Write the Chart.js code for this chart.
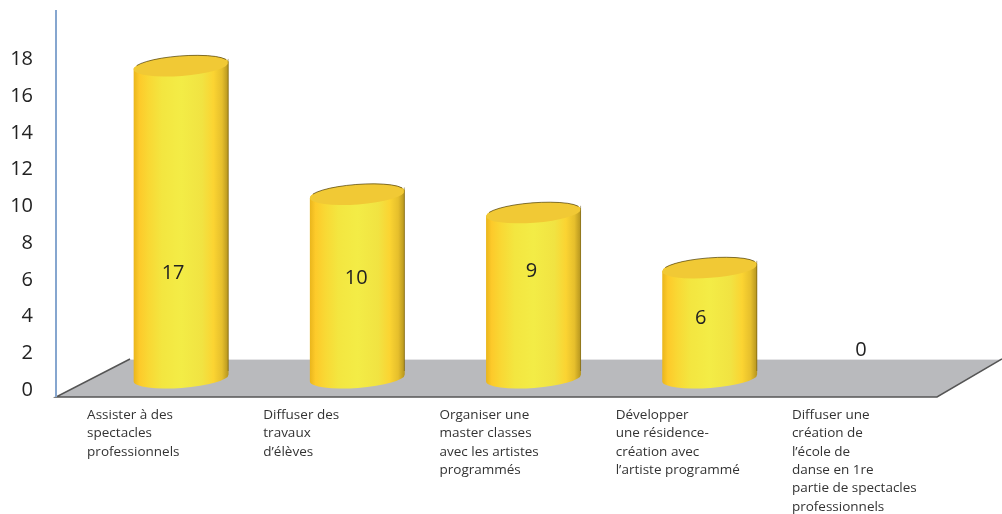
<!DOCTYPE html>
<html>
<head>
<meta charset="utf-8">
<script src="https://cdn.jsdelivr.net/npm/chart.js@4.4.1/dist/chart.umd.min.js"></script>
<style>
  html, body { margin: 0; padding: 0; background: #fff; }
  #wrap { width: 1002px; height: 514px; }
</style>
</head>
<body>
<div id="wrap"><canvas id="myChart" width="1002" height="514"></canvas></div>
<script>
// categories (one array of lines per category)
const categories = [
  ['Assister à des', 'spectacles', 'professionnels'],
  ['Diffuser des', 'travaux', 'd\u2019élèves'],
  ['Organiser une', 'master classes', 'avec les artistes', 'programmés'],
  ['Développer', 'une résidence-', 'création avec', 'l\u2019artiste programmé'],
  ['Diffuser une', 'création de', 'l\u2019école de', 'danse en 1re', 'partie de spectacles', 'professionnels']
];
const values = [17, 10, 9, 6, 0];
const yTicks = [0, 2, 4, 6, 8, 10, 12, 14, 16, 18];

const FONT = '"Open Sans", "Noto Sans", sans-serif';

// floor depth in pixels (front edge -> back wall)
const DEPTH_X = 74;
const DEPTH_Y = 38;

// little hand nudges for the value labels (dx, dy from bar centre)
const labelNudge = [[-8, 51], [-1, -8], [-2, -24], [-9, -5], [-25, -28]];

const cylinders = {
  id: 'cylinders',
  beforeDatasetsDraw(chart) {
    const ctx = chart.ctx;
    const area = chart.chartArea;
    const y = chart.scales.y;
    const zero = y.getPixelForValue(0);
    const front = zero + 7;
    const back = front - DEPTH_Y;

    ctx.save();
    // floor
    ctx.beginPath();
    ctx.moveTo(area.left, front);
    ctx.lineTo(area.left + DEPTH_X, back);
    ctx.lineTo(area.right + DEPTH_X - 9, back);
    ctx.lineTo(area.right, front);
    ctx.closePath();
    ctx.fillStyle = '#b9babd';
    ctx.fill();

    ctx.strokeStyle = '#e4e4e6';
    ctx.lineWidth = 1;
    ctx.beginPath();
    ctx.moveTo(area.left + DEPTH_X, back + 0.5);
    ctx.lineTo(area.right + DEPTH_X - 9, back + 0.5);
    ctx.stroke();

    ctx.strokeStyle = '#555';
    ctx.lineWidth = 1.5;
    ctx.beginPath();
    ctx.moveTo(area.left + DEPTH_X, back);
    ctx.lineTo(area.left, front);
    ctx.lineTo(area.right, front);
    ctx.lineTo(area.right + DEPTH_X - 9, back);
    ctx.stroke();

    // vertical axis line
    ctx.strokeStyle = '#86a6cf';
    ctx.lineWidth = 2;
    ctx.beginPath();
    ctx.moveTo(area.left, area.top);
    ctx.lineTo(area.left, front);
    ctx.stroke();

    // cylinders, set half way into the floor
    const meta = chart.getDatasetMeta(0);
    const rx0 = DEPTH_X / 2, ry0 = DEPTH_Y / 2 - 7;
    const rot = -0.075;
    meta.data.forEach((bar, i) => {
      if (values[i] <= 0) return;
      const cx = bar.x + rx0;
      const w = bar.width;
      const rx = w / 2;
      const ry = 10;
      const top = bar.y - ry0;
      const base = bar.base - ry0;
      const left = cx - rx, right = cx + rx;

      const g = ctx.createLinearGradient(left, 0, right, 0);
      g.addColorStop(0, '#e9b51c');
      g.addColorStop(0.06, '#fdca2a');
      g.addColorStop(0.16, '#f9d834');
      g.addColorStop(0.3, '#f3e640');
      g.addColorStop(0.5, '#f3ec46');
      g.addColorStop(0.72, '#f1e342');
      g.addColorStop(0.84, '#fbd432');
      g.addColorStop(0.93, '#e6bf2c');
      g.addColorStop(1, '#b3931e');

      ctx.beginPath();
      ctx.ellipse(cx, top, rx, ry, rot, Math.PI, 0, false);
      ctx.ellipse(cx, base, rx, ry, rot, 0, Math.PI, false);
      ctx.closePath();
      ctx.fillStyle = g;
      ctx.fill();

      // top cap
      ctx.beginPath();
      ctx.ellipse(cx, top, rx, ry, rot, 0, Math.PI * 2);
      ctx.fillStyle = '#f1c935';
      ctx.fill();
      ctx.strokeStyle = 'rgba(70,55,15,0.75)';
      ctx.lineWidth = 0.9;
      ctx.beginPath();
      ctx.ellipse(cx, top, rx, ry, rot, Math.PI * 1.12, Math.PI * 1.9);
      ctx.stroke();

      ctx.strokeStyle = 'rgba(90,70,10,0.45)';
      ctx.lineWidth = 1;
      ctx.beginPath();
      ctx.moveTo(right - 0.5, top - 7);
      ctx.lineTo(right - 0.5, base - 7);
      ctx.stroke();
    });
    ctx.restore();
  },
  afterDatasetsDraw(chart) {
    const ctx = chart.ctx;
    const meta = chart.getDatasetMeta(0);
    const rx0 = DEPTH_X / 2, ry0 = DEPTH_Y / 2 - 7;
    ctx.save();
    ctx.fillStyle = '#222';
    ctx.font = '20px ' + FONT;
    ctx.textAlign = 'center';
    ctx.textBaseline = 'middle';
    meta.data.forEach((bar, i) => {
      const cx = bar.x + rx0 + labelNudge[i][0];
      const cy = (bar.y + bar.base) / 2 - ry0 + labelNudge[i][1];
      ctx.fillText(String(values[i]), cx, cy);
    });

    // category labels under the floor
    ctx.font = '13.5px ' + FONT;
    ctx.textAlign = 'left';
    ctx.fillStyle = '#333';
    const xs = chart.scales.x;
    categories.forEach((lines, i) => {
      const x = xs.getPixelForValue(i) - 57;
      lines.forEach((t, k) => ctx.fillText(t, x, 415 + k * 18.4));
    });
    ctx.restore();
  }
};

new Chart(document.getElementById('myChart').getContext('2d'), {
  type: 'bar',
  data: {
    labels: categories,
    datasets: [{
      data: values,
      backgroundColor: 'rgba(0,0,0,0)',
      borderWidth: 0,
      barPercentage: 0.54,
      categoryPercentage: 1
    }]
  },
  options: {
    responsive: false,
    animation: false,
    layout: { padding: { top: 10, right: 65, bottom: 124, left: 0 } },
    plugins: {
      legend: { display: false },
      tooltip: { enabled: false }
    },
    scales: {
      x: { display: false },
      y: {
        min: 0,
        max: 20.7,
        afterBuildTicks: axis => { axis.ticks = yTicks.map(v => ({ value: v })); },
        afterFit: axis => {
          axis.width = 56;
          axis.paddingTop = 0;
          axis.paddingBottom = 0;
        },
        grid: { display: false, drawTicks: false },
        border: { display: false },
        ticks: {
          padding: 23,
          color: '#222',
          font: { family: FONT, size: 20 }
        }
      }
    }
  },
  plugins: [cylinders]
});
</script>
</body>
</html>
